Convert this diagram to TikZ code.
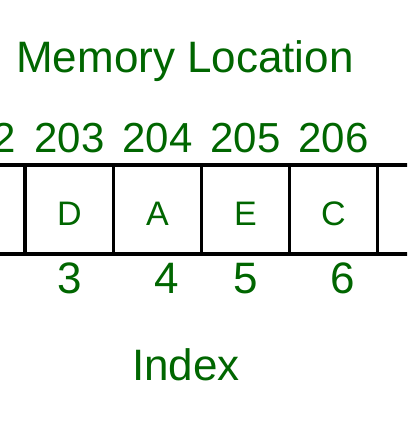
\documentclass[tikz,border=0pt]{standalone}
\usepackage{fontspec}
\setmainfont{Liberation Sans}
\definecolor{gfg}{RGB}{0,102,0}
\begin{document}
\begin{tikzpicture}[x=1pt,y=-1pt,
  cell/.style={draw=black,line width=3.5pt,minimum width=88pt,minimum height=89pt,inner sep=0pt},
  lbl/.style={text=gfg,inner sep=0pt,anchor=base},
  big/.style={lbl,font=\fontsize{44}{48}\selectfont},
  addr/.style={lbl,font=\fontsize{42}{46}\selectfont},
  val/.style={lbl,font=\fontsize{34}{38}\selectfont},
  idx/.style={lbl,font=\fontsize{44}{48}\selectfont}]
\useasboundingbox (0,0) rectangle (407,428);
\clip (0,0) rectangle (407,428);
\node[big] (title) at (185,73) {Memory Location};
\node[cell] (c0) at (-19,209.5) {};
\node[cell] (c1) at (69.5,209.5) {};
\node[cell] (c2) at (157.5,209.5) {};
\node[cell] (c3) at (245.5,209.5) {};
\node[cell] (c4) at (333.5,209.5) {};
\node[cell] (c5) at (421.5,209.5) {};
\node[addr] (a0) at (-19,152) {202};
\node[addr] (a1) at (69.5,152) {203};
\node[addr] (a2) at (157.5,152) {204};
\node[addr] (a3) at (245.5,152) {205};
\node[addr] (a4) at (333.5,152) {206};
\node[val] (v1) at (69.5,225) {D};
\node[val] (v2) at (157.5,225) {A};
\node[val] (v3) at (245.5,225) {E};
\node[val] (v4) at (333.5,225) {C};
\node[idx] (i1) at (70,293) {3};
\node[idx] (i2) at (167,293) {4};
\node[idx] (i3) at (246,293) {5};
\node[idx] (i4) at (343,293) {6};
\node[big] (index) at (186,380) {Index};
\end{tikzpicture}
\end{document}
